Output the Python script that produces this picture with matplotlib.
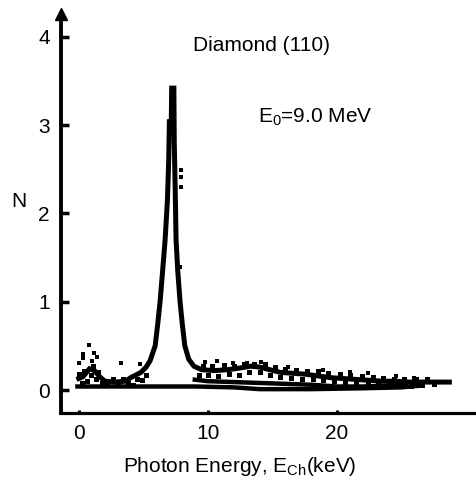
import numpy as np
import matplotlib.pyplot as plt

plt.rcParams['font.family'] = ['Liberation Sans', 'DejaVu Sans']
plt.rcParams['mathtext.fontset'] = 'custom'
plt.rcParams['mathtext.rm'] = 'Liberation Sans'
plt.rcParams['mathtext.it'] = 'Liberation Sans:italic'

# channeling spectrum with the (110) peak
e_peak = [-0.2, 0.3, 0.8, 1.2, 1.6, 2.0, 2.8, 3.6, 4.0, 4.4, 4.8, 5.2, 5.5, 5.9, 6.1,
          6.28, 6.45, 6.67, 6.85, 6.95, 7.0, 7.15, 7.18, 7.35, 7.38, 7.45, 7.52, 7.65,
          7.83, 8.0, 8.2, 8.5, 8.9, 9.5, 10.5, 11.5, 12.5, 13.3, 14.0, 14.8, 15.6,
          16.5, 17.5, 18.5, 19.5, 20.5, 21.5, 22.5, 23.5, 24.5, 25.5, 26.5, 27.5, 28.9]
n_peak = [0.12, 0.15, 0.24, 0.22, 0.15, 0.10, 0.09, 0.10, 0.14, 0.17, 0.20, 0.26, 0.33,
          0.50, 0.75, 1.0, 1.3, 1.7, 2.15, 2.6, 3.04, 3.04, 3.42, 3.42, 2.8, 2.3, 1.7,
          1.35, 1.0, 0.75, 0.5, 0.35, 0.27, 0.23, 0.22, 0.23, 0.25, 0.27, 0.26, 0.23,
          0.20, 0.19, 0.18, 0.16, 0.14, 0.13, 0.12, 0.11, 0.10, 0.10, 0.09, 0.09, 0.09,
          0.09]

# second curve under the tail
e_mid = [8.8, 10.0, 12.0, 14.0, 16.0, 18.0, 20.0, 22.0, 24.0, 25.5]
n_mid = [0.12, 0.10, 0.09, 0.08, 0.07, 0.06, 0.04, 0.04, 0.05, 0.07]

# random (background) spectrum
e_base = [-0.3, 5.0, 9.0, 12.0, 14.0, 18.0, 22.0, 25.0, 26.5]
n_base = [0.04, 0.04, 0.04, 0.03, 0.01, 0.01, 0.02, 0.03, 0.05]

# scattered single counts
e_dots = [0.78, 0.31, 0.31, 1.16, 1.40, 0.0, 1.0, 3.26, 4.73, 9.77, 10.7, 11.9,
          7.9, 7.9, 7.9, 7.83, 13.0, 14.1, 16.2, 18.9, 21.0, 22.4, 24.6, 26.0]
n_dots = [0.51, 0.41, 0.36, 0.42, 0.37, 0.31, 0.33, 0.31, 0.29, 0.32, 0.33, 0.31,
          2.49, 2.41, 2.30, 1.39, 0.31, 0.32, 0.26, 0.23, 0.20, 0.19, 0.16, 0.14]

# counts scattered around the low-energy part and the tail
e_band = [0.0, 0.2, 0.4, 0.6, 0.9, 1.1, 1.3, 1.5, 1.8, 2.2, 2.6, 3.0, 3.4, 3.8,
          4.2, 4.5, 4.9, 5.2,
          9.3, 9.6, 10.0, 10.3, 10.8, 11.2, 11.6, 12.0, 12.4, 12.8, 13.2, 13.6,
          14.0, 14.4, 14.8, 15.2, 15.6, 16.0, 16.4, 16.8, 17.3, 17.7, 18.1, 18.5,
          18.9, 19.3, 19.8, 20.2, 20.6, 21.0, 21.5, 21.9, 22.4, 22.8, 23.2, 23.6,
          24.0, 24.4, 24.8, 25.2, 25.7, 26.1, 26.6, 27.0, 27.5]
n_band = [0.18, 0.08, 0.21, 0.10, 0.17, 0.27, 0.12, 0.20, 0.08, 0.07, 0.13, 0.06,
          0.12, 0.08, 0.06, 0.13, 0.11, 0.17,
          0.17, 0.27, 0.17, 0.27, 0.16, 0.28, 0.18, 0.27, 0.17, 0.29, 0.20, 0.30,
          0.20, 0.29, 0.17, 0.26, 0.15, 0.24, 0.14, 0.23, 0.13, 0.22, 0.12, 0.21,
          0.11, 0.19, 0.10, 0.18, 0.09, 0.17, 0.08, 0.16, 0.07, 0.15, 0.06, 0.14,
          0.06, 0.13, 0.05, 0.13, 0.05, 0.12, 0.06, 0.12, 0.07]

fig = plt.figure(figsize=(4.77, 4.82), dpi=100)
ax = fig.add_axes([0.1279, 0.1432, 0.8721, 0.8278])

ax.plot(e_base, n_base, color='black', lw=3.2, solid_capstyle='butt')
ax.plot(e_mid, n_mid, color='black', lw=3.2, solid_capstyle='butt')
ax.plot(e_peak, n_peak, color='black', lw=3.6, solid_joinstyle='miter',
        solid_capstyle='butt')
ax.plot(e_band, n_band, 's', color='black', ms=3.6, mew=0)
ax.plot(e_dots, n_dots, 's', color='black', ms=2.2, mew=0)

ax.set_xlim(-1.4, 30.85)
ax.set_ylim(-0.26, 4.26)

for side in ['top', 'right']:
    ax.spines[side].set_visible(False)
ax.spines['left'].set_linewidth(2.8)
ax.spines['bottom'].set_linewidth(2.3)

ax.set_xticks([0, 10, 20])
ax.set_yticks([0, 1, 2, 3, 4])
ax.tick_params(axis='y', direction='in', length=5.5, width=2.5, pad=8,
               labelsize=15)
ax.tick_params(axis='x', direction='in', length=2.5, width=2.2, pad=8,
               labelsize=15)

# arrow head on the N axis
ax.plot([0], [1.0], marker='^', color='black', ms=9, transform=ax.transAxes,
        clip_on=False)

fig.text(0.549, 0.894, 'Diamond (110)', ha='center', va='baseline', fontsize=15)
fig.text(0.541, 0.745, r'E$_0$=9.0 MeV', ha='left', va='baseline', fontsize=15)
fig.text(0.040, 0.581, 'N', ha='center', va='center', fontsize=15)
fig.text(0.503, 0.021, r'Photon Energy, E$_{\rm Ch}$(keV)', ha='center',
         va='baseline', fontsize=15)

fig.savefig('out.png', dpi=100)
